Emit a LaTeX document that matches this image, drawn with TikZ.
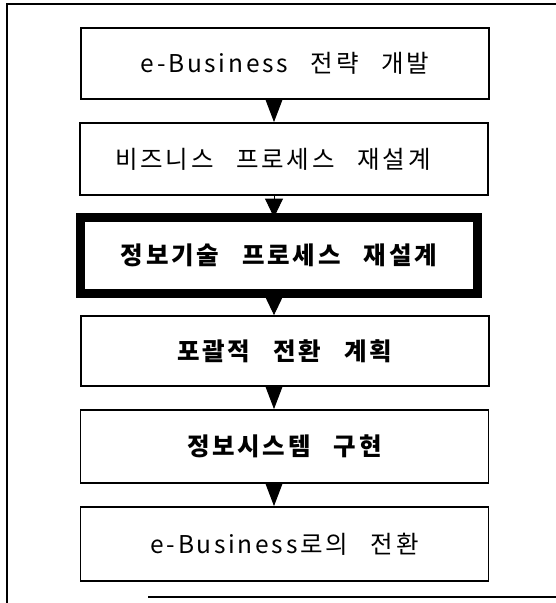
\documentclass[tikz,border=0pt]{standalone}
\usepackage{fontspec}
\newfontfamily\kr{Noto Sans CJK KR}[LetterSpace=11,WordSpace=2.8]
\usetikzlibrary{arrows.meta}
\tikzset{
  stepbox/.style={draw, line width=1.8pt, fill=white, inner sep=0pt,
    minimum width=408pt, minimum height=72pt,
    font=\kr\fontsize{24.5}{28}\selectfont},
  keybox/.style={stepbox, line width=9pt, minimum width=397pt, minimum height=76pt,
    font=\kr\bfseries\fontsize{24.5}{28}\selectfont},
  boldbox/.style={stepbox, font=\kr\bfseries\fontsize{24.5}{28}\selectfont},
  flow/.style={line width=1pt, -{Triangle[length=#1,width=18pt]}},
  frame/.style={line width=1.8pt}
}
\begin{document}
\begin{tikzpicture}[x=1pt,y=-1pt]
\useasboundingbox (0,0) rectangle (556,603);
% outer frame
\draw[frame] (556,4) -- (7,4) -- (7,603);
\draw[frame] (148,597) -- (556,597);
% boxes
\node[stepbox, minimum height=71pt] (b1) at (285,63.5) {e-Business 전략 개발};
\node[stepbox] (b2) at (284,159) {비즈니스 프로세스 재설계\hspace*{22pt}};
\node[keybox] (b3) at (279,255.5) {정보기술 프로세스 재설계};
\node[boldbox, minimum height=70pt] (b4) at (285,351) {포괄적 전환 계획};
\node[boldbox, minimum height=73pt] (b5) at (284.5,446.5) {정보시스템 구현};
\node[stepbox, minimum height=74pt] (b6) at (284.5,544) {e-Business로의 전환};
% arrow anchors
\coordinate (a1s) at (b1.south -| 274,0);
\coordinate (a1e) at (b2.north -| 274,0);
\coordinate (a2s) at (b2.south -| 274,0);
\coordinate (a2e) at ([yshift=-4.5pt]b3.north -| 274,0);
\coordinate (a3s) at ([yshift=4.5pt]b3.south -| 274,0);
\coordinate (a3e) at (b4.north -| 274,0);
\coordinate (a4s) at (b4.south -| 274,0);
\coordinate (a4e) at (b5.north -| 274,0);
\coordinate (a5s) at (b5.south -| 274,0);
\coordinate (a5e) at (b6.north -| 274,0);
\draw[flow=24pt] (a1s) -- (a1e);
\draw[flow=19pt] (a2s) -- (a2e);
\draw[flow=19pt] (a3s) -- (a3e);
\draw[flow=24pt] (a4s) -- (a4e);
\draw[flow=24pt] (a5s) -- (a5e);
\end{tikzpicture}
\end{document}
